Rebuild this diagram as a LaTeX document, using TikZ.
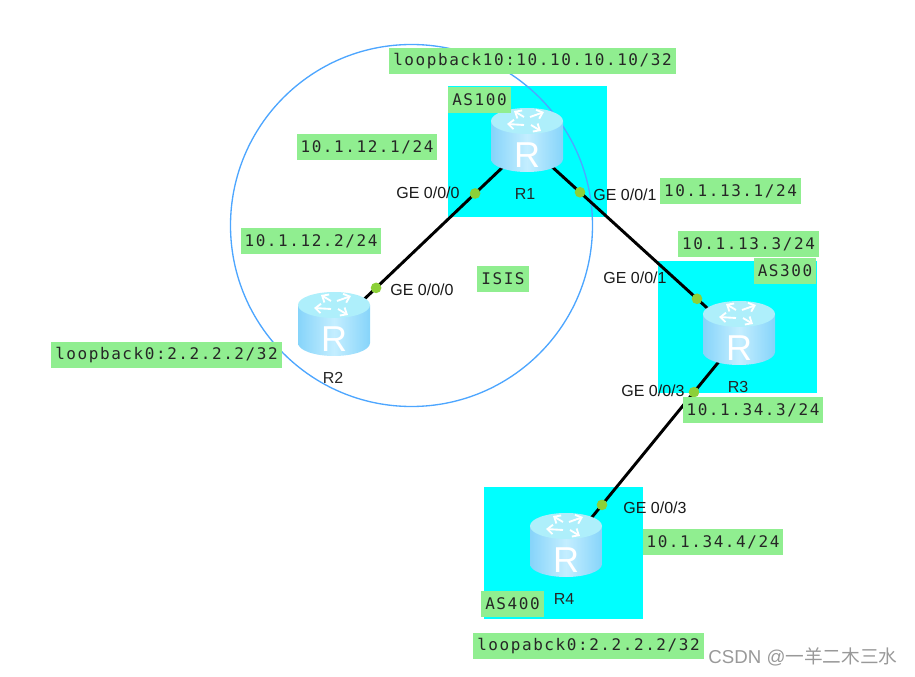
\documentclass[tikz,border=0pt]{standalone}
\usepackage{fontspec}
\setmainfont{Liberation Sans}
\newfontfamily\tagfont[LetterSpace=9.8]{DejaVu Sans Mono}
\newfontfamily\markfont{Noto Sans CJK SC}
\usetikzlibrary{arrows.meta}
\definecolor{tagfill}{HTML}{90EE90}
\definecolor{asfill}{HTML}{00FFFF}
\definecolor{portfill}{HTML}{8CD038}
\definecolor{ringline}{HTML}{4DA6FF}
\definecolor{bodyedge}{HTML}{86D4FA}
\definecolor{bodymid}{HTML}{C4EEFF}
\definecolor{lidfill}{HTML}{AEEFFB}

\begin{document}
\begin{tikzpicture}[
    x=0.75pt, y=-0.75pt,
    asbox/.style={rectangle, fill=asfill, inner sep=0pt, anchor=north west},
    tag/.style={rectangle, fill=tagfill, inner xsep=3pt, inner ysep=0pt, minimum height=19.5pt, font=\tagfont\fontsize{12pt}{14pt}\selectfont, text=black!85},
    portname/.style={font=\fontsize{12pt}{14pt}\selectfont, text=black!90, inner sep=0pt},
    hostname/.style={font=\fontsize{12pt}{14pt}\selectfont, text=black!85, inner sep=0pt},
    hostspot/.style={circle, inner sep=0pt, minimum size=1pt},
    link/.style={line width=2.2pt, black},
    portdot/.style={circle, fill=portfill, inner sep=0pt, minimum size=8pt},
    ring/.style={draw=ringline, line width=1pt},
    router/.pic={
        \shade[left color=bodyedge, right color=bodyedge, middle color=bodymid]
            (-36,-19) -- (-36,19) arc[start angle=180, end angle=0, x radius=36, y radius=13] -- (36,-19) -- cycle;
        \fill[lidfill] (0,-19) ellipse[x radius=36, y radius=13];
        \foreach \tx/\ty/\hx/\hy in {-3/-23/-13/-29, 3/-23/17/-28, -3/-15/-20/-16, 4/-15/14/-9}
            \draw[white, line width=1.4pt, -{Straight Barb[length=4pt,width=7pt]}] (\tx,\ty) -- (\hx,\hy);
        \node[text=white, inner sep=0pt, font=\fontsize{27pt}{28pt}\selectfont] (-letter) at (0,15) {R};
    }
]
    \useasboundingbox (0,0) rectangle (915,677);

    % autonomous systems
    \node[asbox, minimum width=119.25pt, minimum height=98.25pt] (as100) at (448,86) {};
    \node[asbox, minimum width=119.25pt, minimum height=99pt] (as300) at (658,261) {};
    \node[asbox, minimum width=119.25pt, minimum height=99pt] (as400) at (484,487) {};
    \node[circle, ring, minimum size=271.5pt, inner sep=0pt] (isis) at (411.5,225.5) {};

    \node[hostspot] (R1) at (527,144) {};
    \node[hostspot] (R2) at (334,328) {};
    \node[hostspot] (R3) at (739,337) {};
    \node[hostspot] (R4) at (566,549) {};

    % links and their ports
    \draw[link] (R1.center) -- node[portdot, pos=.269] (p10) {} node[portdot, pos=.782] (p20) {} (R2.center);
    \draw[link] (R1.center) -- node[portdot, pos=.25] (p11) {} node[portdot, pos=.802] (p31) {} (R3.center);
    \draw[link] (R3.center) -- node[portdot, pos=.26] (p33) {} node[portdot, pos=.792] (p43) {} (R4.center);

    \pic (icon1) at (527,140) {router};
    \pic (icon2) at (334,324) {router};
    \pic (icon3) at (739,333) {router};
    \pic (icon4) at (566,545) {router};

    \node[hostname] (name1) at (525,194) {R1};
    \node[hostname] (name2) at (333,378) {R2};
    \node[hostname] (name3) at (738,387) {R3};
    \node[hostname] (name4) at (564,599) {R4};

    \node[portname] (ge10) at (428,193) {GE 0/0/0};
    \node[portname] (ge11) at (625,195) {GE 0/0/1};
    \node[portname] (ge20) at (422,290) {GE 0/0/0};
    \node[portname] (ge31) at (635,278) {GE 0/0/1};
    \node[portname] (ge33) at (653,391) {GE 0/0/3};
    \node[portname] (ge43) at (655,508) {GE 0/0/3};

    % address labels
    \node[tag] (lo10) at (532.5,61) {loopback10:10.10.10.10/32};
    \node[tag] (tag100) at (479.5,100) {AS100};
    \node[tag] (a121) at (367,147) {10.1.12.1/24};
    \node[tag] (a131) at (730.5,191) {10.1.13.1/24};
    \node[tag] (a122) at (311,241) {10.1.12.2/24};
    \node[tag] (a133) at (748.5,244) {10.1.13.3/24};
    \node[tag] (tag300) at (785,271) {AS300};
    \node[tag] (tagisis) at (503,279) {ISIS};
    \node[tag] (lo0) at (166.5,355) {loopback0:2.2.2.2/32};
    \node[tag] (a343) at (753,410) {10.1.34.3/24};
    \node[tag] (a344) at (713,542) {10.1.34.4/24};
    \node[tag] (tag400) at (512.5,604) {AS400};
    \node[tag] (lo4) at (588.5,646) {loopabck0:2.2.2.2/32};

    \node[text=black!40, inner sep=0pt, font=\fontsize{14pt}{16pt}\selectfont] (mark) at (803,657) {CSDN @{\markfont 一羊二木三水}};
\end{tikzpicture}
\end{document}
